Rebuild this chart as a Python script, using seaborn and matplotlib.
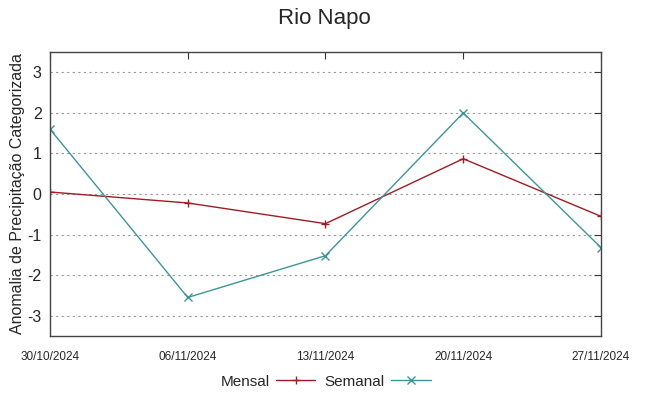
import pandas as pd
import matplotlib
matplotlib.use('Agg')
import matplotlib.pyplot as plt
import matplotlib.dates as mdates
import seaborn as sns

# data
datas = ['2024-10-30', '2024-11-06', '2024-11-13', '2024-11-20', '2024-11-27']
mensal = [0.05, -0.22, -0.73, 0.87, -0.55]
semanal = [1.6, -2.55, -1.52, 2.0, -1.32]
cores = {'Mensal': '#a01c24', 'Semanal': '#3c9696'}
marcadores = {'Mensal': '+', 'Semanal': 'x'}
yticks = [-3, -2, -1, 0, 1, 2, 3]

df = pd.DataFrame({
    'data': pd.to_datetime(datas * 2),
    'valor': mensal + semanal,
    'serie': ['Mensal'] * len(mensal) + ['Semanal'] * len(semanal),
})

sns.set_style('white')
plt.rcParams['font.family'] = ['Liberation Sans', 'DejaVu Sans']

fig = plt.figure(figsize=(6.49, 3.96), dpi=100)
ax = fig.add_axes([0.077, 0.1515, 0.849, 0.717])

sns.lineplot(data=df, x='data', y='valor', hue='serie', style='serie',
             palette=cores, markers=marcadores, dashes=False, linewidth=1,
             markersize=6, ax=ax)

# seaborn paints marker edges white, which hides + and x
for ln in ax.lines:
    ln.set_markeredgecolor(ln.get_color())
    ln.set_markeredgewidth(1)

ax.set_xlim(pd.Timestamp(datas[0]), pd.Timestamp(datas[-1]))
ax.set_ylim(-3.5, 3.5)
ax.set_yticks(yticks)
ax.set_yticklabels([str(v) for v in yticks], fontsize=11.5)
ax.set_xticks(pd.to_datetime(datas))
ax.xaxis.set_major_formatter(mdates.DateFormatter('%d/%m/%Y'))
for lbl in ax.get_xticklabels():
    lbl.set_fontfamily(['Liberation Sans Narrow', 'Liberation Sans'])
    lbl.set_fontsize(8.5)
ax.tick_params(axis='both', direction='in', length=5, width=0.8, color='#333333',
               top=True, right=True, pad=6)
ax.tick_params(axis='x', pad=11)
ax.grid(axis='y', linestyle=(0, (2, 3)), color='#999999', linewidth=0.8)
for s in ax.spines.values():
    s.set_color('#444444')
    s.set_linewidth(1.0)

ax.set_xlabel('')
ax.set_ylabel('Anomalia de Precipitação Categorizada', fontsize=11.5, labelpad=2)
fig.suptitle('Rio Napo', fontsize=16, y=0.98)

handles, labels = ax.get_legend_handles_labels()
for h in handles:
    h.set_markeredgecolor(h.get_color())
    h.set_markeredgewidth(1)
ax.legend(handles, labels, loc='upper center', bbox_to_anchor=(0.5, -0.115),
          ncol=2, frameon=False, markerfirst=False, fontsize=11,
          handlelength=2.6, columnspacing=0.6, handletextpad=0.4,
          borderaxespad=0)

fig.savefig('out.png', dpi=100)
